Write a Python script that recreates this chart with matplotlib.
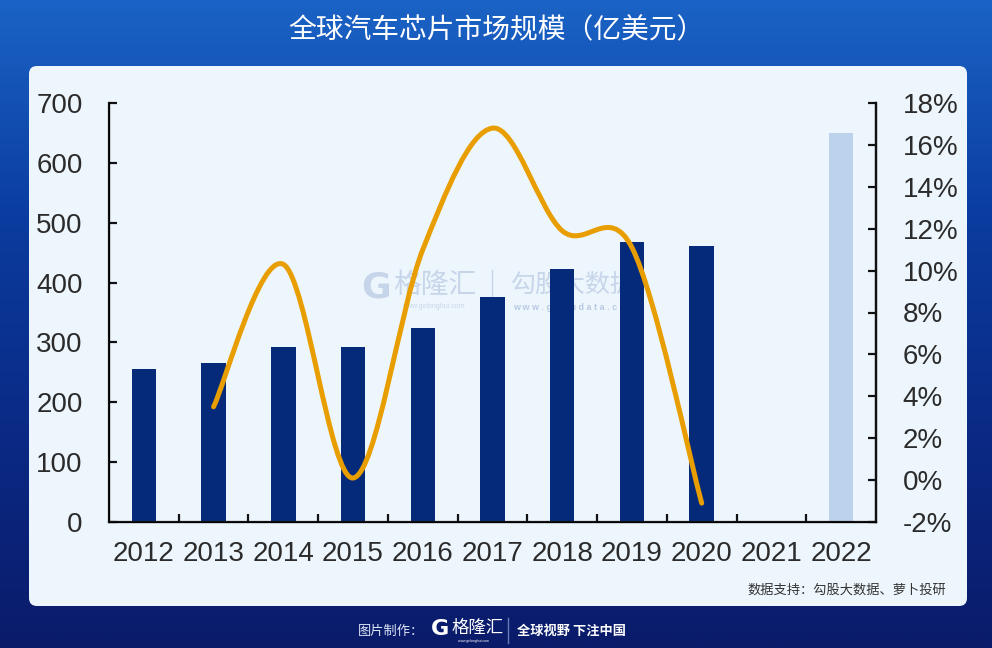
import numpy as np
import matplotlib.pyplot as plt
from matplotlib.patches import FancyBboxPatch, PathPatch
from matplotlib.path import Path
from matplotlib.colors import LinearSegmentedColormap

plt.rcParams['font.family'] = ['Liberation Sans', 'DejaVu Sans']
CJK = ['Noto Sans CJK SC', 'DejaVu Sans']

# data
years = ['2012', '2013', '2014', '2015', '2016', '2017', '2018', '2019', '2020', '2021', '2022']
market = [255, 265, 292, 292, 324, 376, 423, 468, 461, np.nan, 650]
growth_years = [1, 2, 3, 4, 5, 6, 7, 8]   # index into years: 2013..2020
growth = [3.5, 10.3, 0.1, 11.0, 16.8, 11.9, 11.1, -1.1]

title = '全球汽车芯片市场规模（亿美元）'
source = '数据支持：勾股大数据、萝卜投研'

W, H = 992, 648
fig = plt.figure(figsize=(W / 100, H / 100), dpi=100)

# background gradient + panel, drawn in pixel coords
bg = fig.add_axes([0, 0, 1, 1], zorder=-10)
bg.set_xlim(0, W)
bg.set_ylim(H, 0)
bg.axis('off')
cmap = LinearSegmentedColormap.from_list('bgc', ['#1b63c6', '#0b3c9f', '#0a2a85', '#0a1b6a'])
grad = np.linspace(0, 1, 256).reshape(-1, 1)
bg.imshow(grad, cmap=cmap, extent=[0, W, H, 0], aspect='auto')
bg.add_patch(FancyBboxPatch((29, 66), 938, 540, boxstyle='round,pad=0,rounding_size=8',
                            fc='#eef6fd', ec='none'))
bg.text(W / 2, 30, title, color='white', fontsize=20, ha='center', va='center', family=CJK)
bg.text(946, 590, source, color='#333333', fontsize=9.5, ha='right', va='center', family=CJK)

# footer
bg.text(358, 631, '图片制作：', color='#dde5f5', fontsize=9.5, ha='left', va='center', family=CJK)
bg.text(440, 629, 'G', color='white', fontsize=16, fontweight='heavy', ha='center', va='center',
        family=['DejaVu Sans'])
bg.text(452, 628, '格隆汇', color='white', fontsize=12.5, ha='left', va='center', family=CJK)
bg.text(473, 641, 'www.gelonghui.com', color='white', fontsize=2.5, ha='center', va='center')
bg.plot([508, 508], [618, 643], color='#6a7bb5', lw=1)
bg.text(517, 631, '全球视野 下注中国', color='white', fontsize=9.5, fontweight='bold',
        ha='left', va='center', family=CJK)

# watermark
bg.text(376, 288, 'G', color='#c7d5ea', fontsize=26, fontweight='heavy', ha='center', va='center',
        family=['DejaVu Sans'], zorder=1)
bg.text(393, 285, '格隆汇', color='#c7d5ea', fontsize=20, ha='left', va='center', family=CJK)
bg.text(433, 307, 'www.gelonghui.com', color='#c7d5ea', fontsize=5, ha='center', va='center')
bg.plot([492, 492], [270, 302], color='#c7d5ea', lw=1)
bg.text(511, 285, '勾股大数据', color='#c7d5ea', fontsize=18, ha='left', va='center', family=CJK)
bg.text(574, 307, 'w w w . g o g u d a t a . c o m', color='#b9c9e2', fontsize=6.5,
        ha='center', va='center', fontweight='bold')

# main chart
ax = fig.add_axes([109 / W, 1 - 522 / H, (876 - 109) / W, (522 - 103) / H])
ax.patch.set_visible(False)
x = np.arange(len(years))
bar_colors = ['#062a7a'] * 10 + ['#bdd2ec']
ax.bar(x, market, width=0.35, color=bar_colors, zorder=2)
ax.set_xlim(-0.5, len(years) - 0.5)
ax.set_ylim(0, 700)
ax.set_yticks(range(0, 701, 100))
ax.set_xticks(x)
ax.set_xticklabels(years)
ax.set_xticks(np.arange(0.5, len(years) - 1, 1), minor=True)
ax.tick_params(axis='x', which='major', length=0, pad=14, labelsize=20, labelcolor='#2b2b2b')
ax.tick_params(axis='x', which='minor', direction='in', length=6, width=1.6, color='#111111')
ax.tick_params(axis='y', direction='in', length=6, width=1.6, pad=19, labelsize=20,
               labelcolor='#2b2b2b', color='#111111')
ax.spines['top'].set_visible(False)
for s in ['left', 'bottom', 'right']:
    ax.spines[s].set_linewidth(1.6)
    ax.spines[s].set_color('#111111')

ax2 = ax.twinx()
ax2.patch.set_visible(False)
ax2.set_ylim(-2, 18)
ax2.set_yticks(range(-2, 19, 2))
ax2.set_yticklabels([f'{v}%' for v in range(-2, 19, 2)])
ax2.tick_params(axis='y', direction='in', length=6, width=1.6, pad=19, labelsize=20,
                labelcolor='#2b2b2b', color='#111111')
ax2.spines['top'].set_visible(False)
ax2.spines['right'].set_linewidth(1.6)
ax2.spines['right'].set_color('#111111')

# smoothed growth line (Catmull-Rom style Bezier through the points)
pts = np.column_stack([growth_years, growth]).astype(float)
ext = np.vstack([pts[0], pts, pts[-1]])
verts = [pts[0]]
codes = [Path.MOVETO]
for i in range(len(pts) - 1):
    p0, p1, p2, p3 = ext[i], ext[i + 1], ext[i + 2], ext[i + 3]
    verts += [p1 + (p2 - p0) / 6, p2 - (p3 - p1) / 6, p2]
    codes += [Path.CURVE4] * 3
ax2.add_patch(PathPatch(Path(verts, codes), fc='none', ec='#e89e00', lw=3.6,
                        capstyle='round', joinstyle='round', zorder=3))

fig.savefig('out.png', dpi=100)
